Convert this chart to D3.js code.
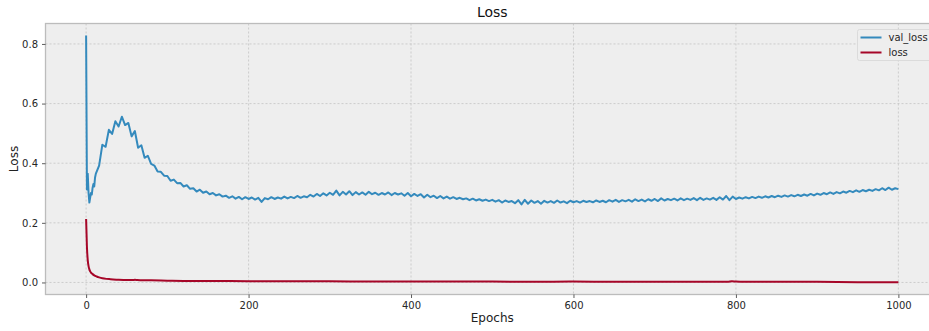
<!DOCTYPE html>
<html>
<head>
<meta charset="utf-8">
<script src="https://cdn.jsdelivr.net/npm/d3@7"></script>
<style>
  body { margin: 0; background: #fff; }
  svg { display: block; font-family: "DejaVu Sans", sans-serif; }
</style>
</head>
<body>
<svg id="chart" width="929" height="331"></svg>
<script>
// ---- data ----
var earlyEpochs = [0, 1, 2, 3, 4, 5, 6, 7, 8, 9, 10, 11];
var earlyValLoss = [0.828, 0.312, 0.365, 0.300, 0.268, 0.285, 0.300, 0.295, 0.318, 0.330, 0.322, 0.352];

// val_loss from epoch 12 to 1000, every 4 epochs
var valStep = 4;
var valLossRest = [
  0.365, 0.392, 0.462, 0.455, 0.512, 0.498, 0.541, 0.523, 0.556, 0.528,
  0.535, 0.490, 0.508, 0.452, 0.460, 0.418, 0.425, 0.398, 0.392, 0.372,
  0.371, 0.358, 0.357, 0.341, 0.345, 0.333, 0.334, 0.322, 0.326, 0.314,
  0.316, 0.305, 0.311, 0.301, 0.305, 0.296, 0.300, 0.292, 0.296, 0.288,
  0.291, 0.284, 0.289, 0.281, 0.287, 0.279, 0.286, 0.280, 0.285, 0.278,
  0.284, 0.270, 0.283, 0.279, 0.286, 0.280, 0.285, 0.281, 0.288, 0.282,
  0.287, 0.283, 0.290, 0.284, 0.289, 0.286, 0.294, 0.288, 0.297, 0.290,
  0.299, 0.292, 0.301, 0.294, 0.308, 0.292, 0.304, 0.295, 0.306, 0.293,
  0.303, 0.295, 0.302, 0.294, 0.304, 0.296, 0.301, 0.294, 0.300, 0.295,
  0.302, 0.293, 0.300, 0.295, 0.299, 0.291, 0.300, 0.289, 0.297, 0.290,
  0.296, 0.285, 0.294, 0.286, 0.291, 0.283, 0.290, 0.282, 0.288, 0.281,
  0.286, 0.280, 0.284, 0.279, 0.282, 0.276, 0.281, 0.275, 0.279, 0.274,
  0.278, 0.273, 0.277, 0.271, 0.276, 0.268, 0.275, 0.270, 0.273, 0.266,
  0.276, 0.262, 0.277, 0.264, 0.275, 0.267, 0.273, 0.264, 0.274, 0.268,
  0.273, 0.267, 0.275, 0.268, 0.272, 0.266, 0.274, 0.269, 0.273, 0.268,
  0.274, 0.270, 0.273, 0.269, 0.275, 0.270, 0.274, 0.269, 0.276, 0.271,
  0.277, 0.270, 0.276, 0.272, 0.277, 0.271, 0.279, 0.273, 0.278, 0.272,
  0.279, 0.274, 0.280, 0.273, 0.282, 0.275, 0.280, 0.276, 0.281, 0.275,
  0.282, 0.276, 0.281, 0.277, 0.283, 0.276, 0.284, 0.277, 0.282, 0.278,
  0.284, 0.277, 0.286, 0.278, 0.290, 0.276, 0.288, 0.280, 0.285, 0.281,
  0.286, 0.282, 0.287, 0.283, 0.288, 0.284, 0.289, 0.285, 0.290, 0.286,
  0.291, 0.287, 0.292, 0.288, 0.293, 0.289, 0.294, 0.290, 0.295, 0.291,
  0.297, 0.292, 0.298, 0.294, 0.300, 0.296, 0.302, 0.297, 0.303, 0.299,
  0.305, 0.301, 0.307, 0.303, 0.309, 0.304, 0.310, 0.306, 0.311, 0.307,
  0.313, 0.309, 0.316, 0.310, 0.318, 0.311, 0.316, 0.313
];

var lossEpochs = [0, 1, 2, 3, 4, 5, 6, 8, 10, 13, 16, 20, 25, 30, 40, 50, 58, 60, 63, 70, 80, 100, 130, 160, 200, 250, 300, 350, 400, 450, 500, 550, 600, 650, 700, 750, 790, 795, 800, 810, 850, 900, 950, 1000];
var lossValues = [0.213, 0.120, 0.075, 0.055, 0.044, 0.037, 0.033, 0.028, 0.024, 0.020, 0.017, 0.014, 0.012, 0.011, 0.009, 0.008, 0.008, 0.009, 0.008, 0.007, 0.007, 0.006, 0.005, 0.005, 0.004, 0.004, 0.004, 0.003, 0.003, 0.003, 0.003, 0.002, 0.003, 0.002, 0.002, 0.002, 0.002, 0.004, 0.003, 0.002, 0.002, 0.002, 0.001, 0.001];

var xTicks = [0, 200, 400, 600, 800, 1000];
var yTicks = [0.0, 0.2, 0.4, 0.6, 0.8];

// build series
var valData = [];
earlyEpochs.forEach(function(e, i){ valData.push([e, earlyValLoss[i]]); });
valLossRest.forEach(function(v, i){ valData.push([12 + i * valStep, v]); });
var lossData = lossEpochs.map(function(e, i){ return [e, lossValues[i]]; });

// ---- layout ----
var margin = {top: 23.5, left: 45.5};
var width = 893.5;   // axes runs past the right edge of the picture
var height = 271;

var svg = d3.select("#chart");

var x = d3.scaleLinear().domain([-50, 1050]).range([0, width]);
var y = d3.scaleLinear().domain([-0.0404, 0.8686]).range([height, 0]);

var g = svg.append("g").attr("transform", "translate(" + margin.left + "," + margin.top + ")");

g.append("rect").attr("width", width).attr("height", height).attr("fill", "#eeeeee");

svg.append("defs").append("clipPath").attr("id", "clip")
  .append("rect").attr("width", width).attr("height", height);

// grid
g.selectAll(".vgrid").data(xTicks).enter().append("line")
  .attr("x1", function(d){ return x(d); }).attr("x2", function(d){ return x(d); })
  .attr("y1", 0).attr("y2", height)
  .attr("stroke", "#c4c4c4").attr("stroke-width", 0.8).attr("stroke-dasharray", "2,2");
g.selectAll(".hgrid").data(yTicks).enter().append("line")
  .attr("y1", function(d){ return y(d); }).attr("y2", function(d){ return y(d); })
  .attr("x1", 0).attr("x2", width)
  .attr("stroke", "#c4c4c4").attr("stroke-width", 0.8).attr("stroke-dasharray", "2,2");

// lines
var line = d3.line().x(function(d){ return x(d[0]); }).y(function(d){ return y(d[1]); });

g.append("path").datum(valData)
  .attr("clip-path", "url(#clip)")
  .attr("d", line).attr("fill", "none")
  .attr("stroke", "#348ABD").attr("stroke-width", 2).attr("stroke-linejoin", "round");

g.append("path").datum(lossData)
  .attr("clip-path", "url(#clip)")
  .attr("d", d3.line().curve(d3.curveMonotoneX).x(function(d){ return x(d[0]); }).y(function(d){ return y(d[1]); }))
  .attr("fill", "none")
  .attr("stroke", "#A60628").attr("stroke-width", 2);

// frame
g.append("rect").attr("width", width).attr("height", height)
  .attr("fill", "none").attr("stroke", "#bcbcbc").attr("stroke-width", 1.3);

// axes
var xAxis = g.append("g").attr("transform", "translate(0," + height + ")")
  .call(d3.axisBottom(x).tickValues(xTicks).tickSize(3.5).tickPadding(4).tickFormat(d3.format("d")));
var yAxis = g.append("g")
  .call(d3.axisLeft(y).tickValues(yTicks).tickSize(3.5).tickPadding(4).tickFormat(d3.format(".1f")));

[xAxis, yAxis].forEach(function(a){
  a.select(".domain").remove();
  a.selectAll("line").attr("stroke", "#333").attr("stroke-width", 0.8);
  a.selectAll("text").attr("fill", "#262626").style("font-size", "10px").style("font-family", "DejaVu Sans");
});

// title + labels
svg.append("text").attr("x", margin.left + x(500)).attr("y", 17)
  .attr("text-anchor", "middle").style("font-size", "14px").attr("fill", "#111").text("Loss");
svg.append("text").attr("x", margin.left + x(500)).attr("y", 322)
  .attr("text-anchor", "middle").style("font-size", "12px").attr("fill", "#222").text("Epochs");
svg.append("text").attr("transform", "translate(18," + (margin.top + height / 2) + ") rotate(-90)")
  .attr("text-anchor", "middle").style("font-size", "12px").attr("fill", "#222").text("Loss");

// legend
var legendItems = [{name: "val_loss", color: "#348ABD"}, {name: "loss", color: "#A60628"}];
var lg = svg.append("g").attr("transform", "translate(857.5,29.5)");
lg.append("rect").attr("width", 80).attr("height", 31).attr("rx", 2)
  .attr("fill", "#eeeeee").attr("stroke", "#d6d6d6").attr("stroke-width", 0.8);
var li = lg.selectAll(".item").data(legendItems).enter().append("g")
  .attr("transform", function(d, i){ return "translate(0," + (8 + i * 15) + ")"; });
li.append("line").attr("x1", 3).attr("x2", 24).attr("y1", 0).attr("y2", 0)
  .attr("stroke", function(d){ return d.color; }).attr("stroke-width", 2);
li.append("text").attr("x", 31).attr("y", 3.5).style("font-size", "10px").attr("fill", "#262626")
  .text(function(d){ return d.name; });
</script>
</body>
</html>
